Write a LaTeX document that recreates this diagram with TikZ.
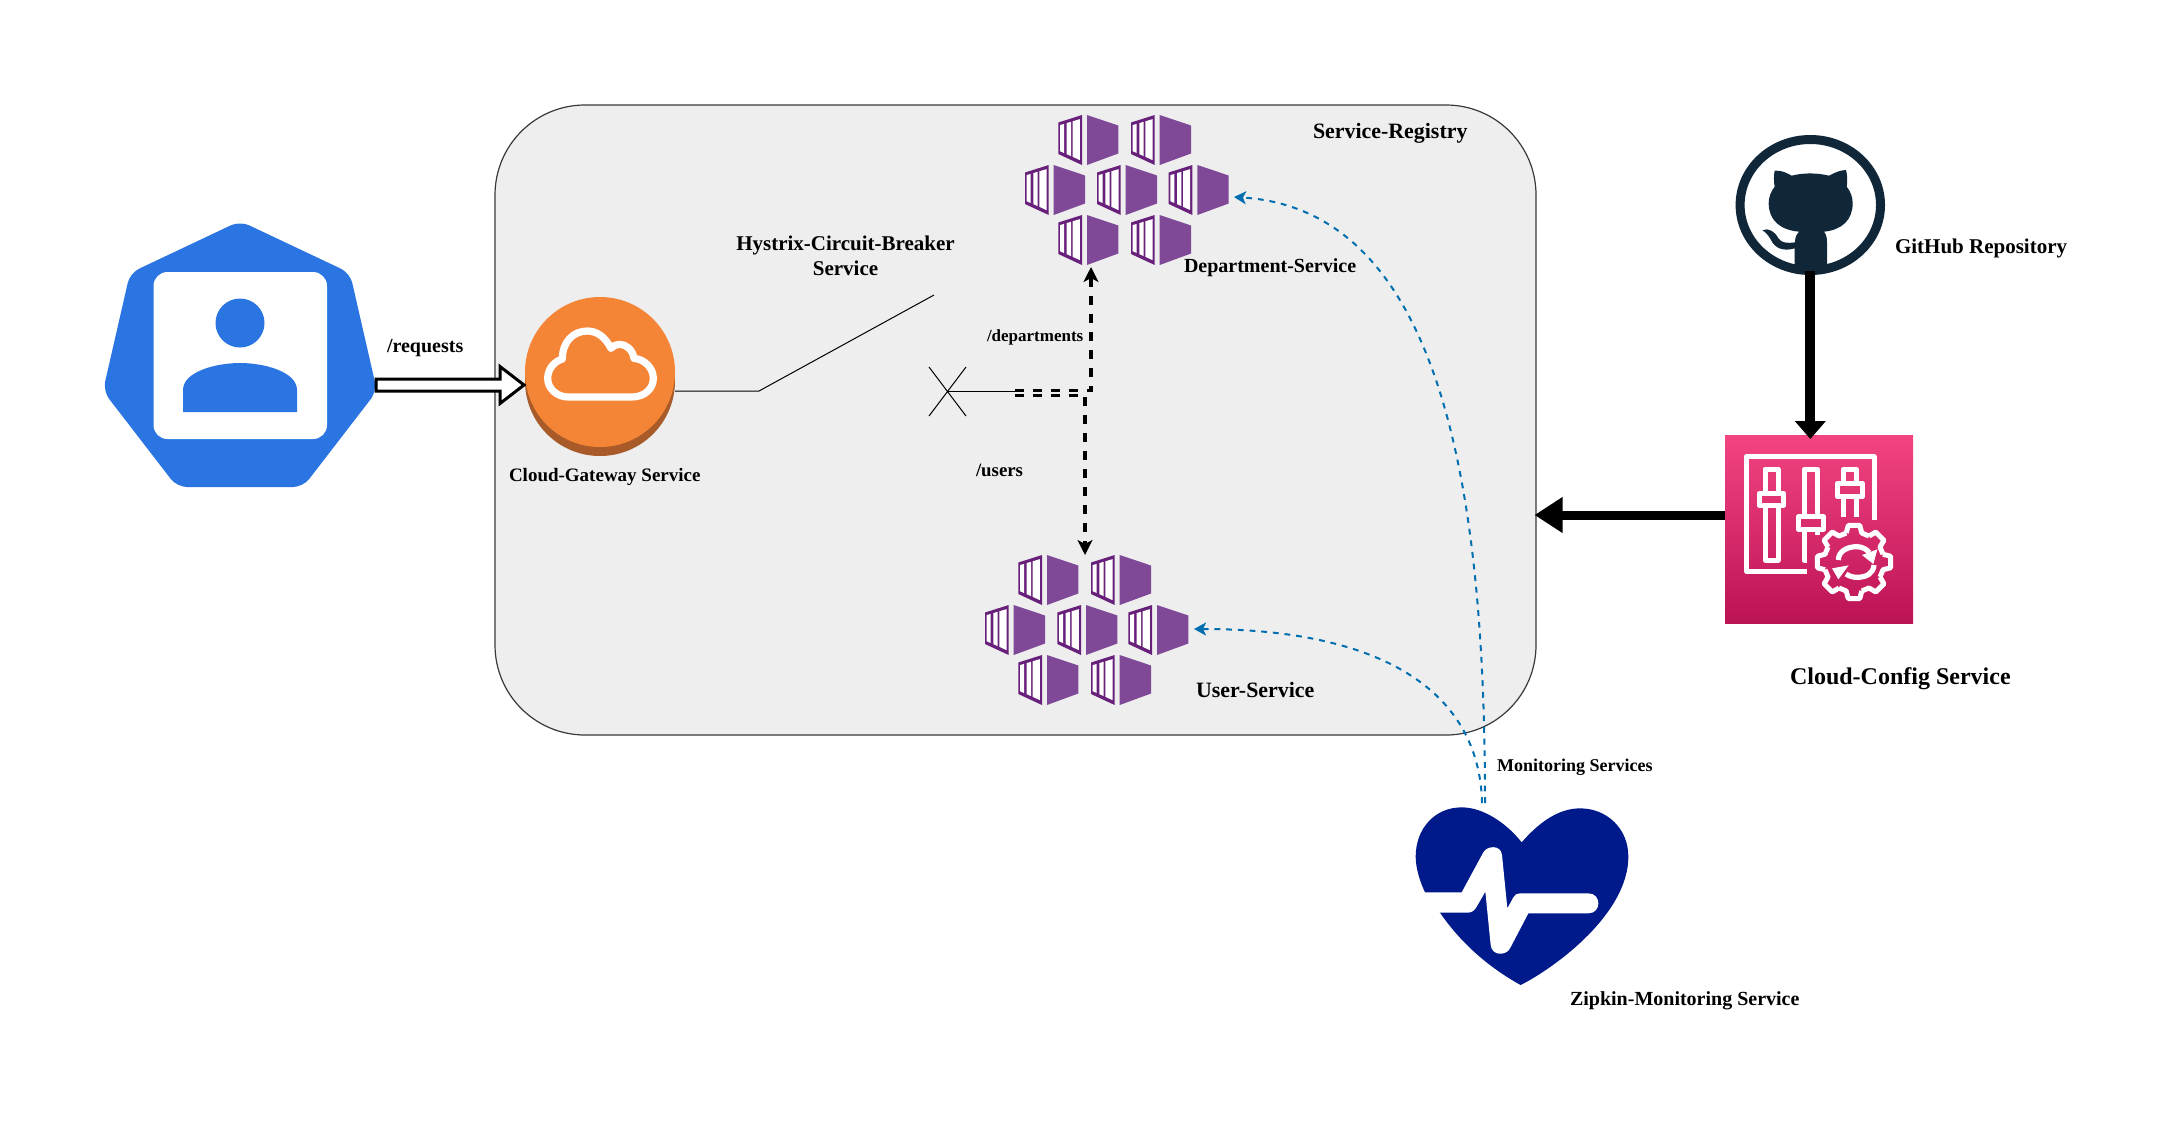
\documentclass[tikz,border=0pt]{standalone}
\usepackage{fontspec}
\setmainfont{Liberation Serif}
\usetikzlibrary{arrows.meta,shapes.geometric}
\definecolor{kblue}{HTML}{2A75E2}
\definecolor{gworange}{HTML}{F58536}
\definecolor{gwshade}{HTML}{A85A28}
\definecolor{regfill}{HTML}{EEEEEE}
\definecolor{regline}{HTML}{36393D}
\definecolor{purpleA}{HTML}{68217A}
\definecolor{purpleB}{HTML}{804998}
\definecolor{ghdark}{HTML}{10273A}
\definecolor{cfgtop}{HTML}{F34482}
\definecolor{cfgbot}{HTML}{BC1356}
\definecolor{heartblue}{HTML}{001A8C}
\definecolor{mon}{HTML}{006EAF}
\newcommand\fsz[1]{\fontsize{#1pt}{12.5pt}\selectfont\bfseries}
\tikzset{
  lbl/.style={inner sep=0pt,outer sep=0pt,anchor=base west,text=black},
  thinline/.style={black,line width=0.5pt},
  routed/.style={black,line width=1.7pt,dash pattern=on 4.5pt off 4.5pt,-{Stealth[length=7.5pt,width=7.5pt,inset=2pt]}},
  monitor/.style={mon,line width=1pt,dash pattern=on 2.9pt off 2.95pt,-{Stealth[length=6pt,width=6.5pt,inset=1.5pt]}},
  wh/.style={white,line width=2.5pt,line join=round,line cap=butt},
  kube/.pic={
    \fill[purpleA] (0,7.5) -- (23.7,0) -- (23.7,50) -- (0,39) -- cycle;
    \fill[purpleB] (28.7,0) -- (60,10.5) -- (60,38.5) -- (28.7,50) -- cycle;
    \fill[white] (1.7,10.1) -- (5.7,8.9) -- (5.7,38) -- (1.7,36.2) -- cycle;
    \fill[white] (8.3,8.1) -- (12.7,6.8) -- (12.7,41.1) -- (8.3,39.1) -- cycle;
    \fill[white] (14.3,6.3) -- (21.5,4.15) -- (21.5,45.1) -- (14.3,41.8) -- cycle;
  }
}
\begin{document}
\begin{tikzpicture}[x=0.5pt,y=-0.5pt]
\useasboundingbox (0,0) rectangle (2173,1131);
\fill[white] (0,0) rectangle (2173,1131);

% service registry box
\node[draw=regline,fill=regfill,line width=0.6pt,rounded corners=45pt,minimum width=520.5pt,minimum height=315pt,inner sep=0pt,outer sep=0pt] (reg) at (1015.5,420) {};

% user heptagon
\fill[kblue,rounded corners=5pt] (240,221) -- (350,273) -- (377,391) -- (303,487) -- (177,487) -- (103,391) -- (130,273) -- cycle;
\fill[white,rounded corners=7pt] (153.5,272) rectangle (327,439);
\node[circle,fill=kblue,minimum size=24.5pt,inner sep=0pt] (userhead) at (240,323) {};
\fill[kblue] (183,412) -- (183,390) .. controls (183,372) and (215,363) .. (240,363) .. controls (265,363) and (297,372) .. (297,390) -- (297,412) -- cycle;

% gateway
\fill[gwshade] (600,381) circle[radius=37.5pt];
\node[circle,fill=gworange,minimum size=75pt,inner sep=0pt,outer sep=0pt] (gw) at (600,372) {};
\begin{scope}[shift={(530,310)},x=0.16667pt,y=-0.16667pt]
\draw[white,line width=3.6pt,line join=round] (115,261) -- (305,261) .. controls (345,261) and (370,235) .. (370,205) .. controls (370,175) and (345,148) .. (312,145) .. controls (308,120) and (290,103) .. (268,103) .. controls (258,103) and (250,107) .. (243,115) .. controls (225,80) and (200,63) .. (172,63) .. controls (130,63) and (97,95) .. (97,147) .. controls (70,155) and (53,180) .. (53,205) .. controls (53,235) and (80,261) .. (115,261) -- cycle;
\end{scope}

% hollow request arrow
\coordinate (reqS) at (376,385);
\coordinate (reqE) at (524,385);
\draw[black,fill=white,line width=1.5pt,line join=miter] (reqS) ++(0,-6) -- ++(124,0) -- ++(0,-12.5) -- (reqE) -- ++(-24,18.5) -- ++(0,-12.5) -- ++(-124,0) -- cycle;

% containers department
\foreach \p in {(1058.3,115),(1131,115),(1025,165),(1097,165),(1168.7,165),(1058.3,215),(1131,215)} \pic at \p {kube};
% containers user
\foreach \p in {(1018.3,555),(1091,555),(985,605),(1057.3,605),(1128.3,605),(1018.3,655),(1091,655)} \pic at \p {kube};

% circuit breaker
\coordinate (gwOut) at (675,391);
\coordinate (swA) at (759,391);
\coordinate (swB) at (934,295);
\coordinate (xc) at (947,391);
\coordinate (xe) at (1015,391);
\draw[thinline] (gwOut) -- (swA) -- (swB);
\draw[thinline] (929,367) -- (966,416) (929,416) -- (966,367);
\draw[thinline] (xc) -- (xe);

% routes
\coordinate (depS) at (1015,390.7);
\coordinate (depC) at (1091,390.7);
\coordinate (depT) at (1091,267);
\coordinate (usrS) at (1015,395.3);
\coordinate (usrC) at (1085,395.3);
\coordinate (usrT) at (1085,555);
\draw[routed] (depS) -- (depC) -- (depT);
\draw[routed] (usrS) -- (usrC) -- (usrT);

% github
\node[ellipse,draw=ghdark,line width=4.5pt,minimum width=70.2pt,minimum height=65.5pt,inner sep=0pt,outer sep=0pt] (gh) at (1810.3,205) {};
\begin{scope}[shift={(1700,120)},x=0.16667pt,y=-0.16667pt]
\fill[ghdark] (224,152) .. controls (245,150) and (262,160) .. (275,167) .. controls (310,158) and (350,158) .. (387,167) .. controls (400,160) and (420,150) .. (438,150) .. controls (442,165) and (443,185) .. (440,200) .. controls (452,215) and (458,232) .. (458,250) .. controls (458,300) and (425,330) .. (372,335) .. controls (380,345) and (381,355) .. (381,370) -- (381,440) -- (284,440) -- (284,385) .. controls (250,395) and (225,385) .. (213,360) .. controls (205,345) and (195,335) .. (187,331) .. controls (205,322) and (225,335) .. (235,355) .. controls (245,370) and (265,370) .. (285,367) .. controls (285,350) and (290,342) .. (297,335) .. controls (240,330) and (206,300) .. (206,250) .. controls (206,232) and (212,215) .. (224,200) .. controls (221,185) and (221,165) .. (224,152) -- cycle;
\end{scope}

% config square
\node[top color=cfgtop,bottom color=cfgbot,minimum width=94pt,minimum height=94pt,inner sep=0pt,outer sep=0pt] (cfg) at (1819,529) {};
\begin{scope}[shift={(1700,120)},x=0.16667pt,y=-0.16667pt]
\draw[wh] (322,1355) -- (140,1355) -- (140,1010) -- (522,1010) -- (522,1200);
% slider one
\draw[wh] (195,1120) -- (195,1047) -- (234,1047) -- (234,1120);
\draw[wh] (195,1156) -- (195,1320) -- (234,1320) -- (234,1156);
\draw[wh] (177,1120) rectangle (251,1156);
% slider two
\draw[wh] (313,1190) -- (313,1047) -- (351,1047) -- (351,1190);
\draw[wh] (313,1228) -- (313,1322) -- (322,1322);
\draw[wh] (351,1228) -- (351,1245);
\draw[wh] (295,1190) rectangle (370,1228);
% slider three
\draw[wh] (430,1090) -- (430,1047) -- (468,1047) -- (468,1090);
\draw[wh] (430,1130) -- (430,1190);
\draw[wh] (468,1130) -- (468,1190);
\draw[wh] (412,1090) rectangle (487,1130);
\end{scope}
\begin{scope}[shift={(1854,562)}]
\foreach \a in {0,45,...,315} {
  \draw[white,line width=2.5pt,line join=round] (\a-15:30) -- (\a-9:37) -- (\a+9:37) -- (\a+15:30) -- (\a+30:30);
}
\end{scope}
\begin{scope}[shift={(1770,500)},x=0.16667pt,y=-0.16667pt]
\draw[white,line width=2.6pt] (205,180) .. controls (205,155) and (230,140) .. (260,140) .. controls (275,140) and (290,147) .. (298,158);
\draw[white,line width=2.6pt] (312,195) .. controls (310,220) and (290,232) .. (260,232) .. controls (248,232) and (237,228) .. (228,222);
\fill[white] (322,148) -- (276,165) -- (310,192) -- cycle;
\fill[white] (186,205) -- (236,196) -- (205,238) -- cycle;
\end{scope}

% thick arrows
\coordinate (ghOut) at (1810.3,271);
\coordinate (cfgIn) at (1810.3,439);
\coordinate (cfgOut) at (1725,515);
\coordinate (regIn) at (1534.5,515);
\draw[black,line width=5pt,-{Triangle[length=9pt,width=15pt]}] (ghOut) -- (cfgIn);
\draw[black,line width=4.5pt,-{Triangle[length=14pt,width=17pt]}] (cfgOut) -- (regIn);

% heart
\begin{scope}[shift={(1380,720)},x=0.16667pt,y=-0.16667pt]
\fill[heartblue] (425,367) .. controls (380,310) and (310,262) .. (245,262) .. controls (165,262) and (107,325) .. (107,410) .. controls (107,445) and (120,485) .. (135,517) .. controls (145,535) and (160,555) .. (180,578) .. controls (250,680) and (340,750) .. (422,795) .. controls (530,740) and (745,580) .. (745,410) .. controls (745,325) and (680,265) .. (600,265) .. controls (530,265) and (470,315) .. (425,367) -- cycle;
\fill[white] (120,517) -- (245,517) -- (310,397) .. controls (320,378) and (362,372) .. (366,405) -- (382,565) -- (400,532) .. controls (405,524) and (410,520) .. (420,520) -- (625,520) .. controls (665,520) and (665,580) .. (625,580) -- (445,580) -- (390,685) .. controls (378,708) and (335,708) .. (332,675) -- (316,515) -- (290,560) .. controls (283,572) and (275,578) .. (262,578) -- (160,578) -- cycle;
\end{scope}

% monitoring curves
\coordinate (hbA) at (1485,803);
\coordinate (hbB) at (1482,803);
\coordinate (depM) at (1234,197);
\coordinate (usrM) at (1194,629);
\draw[monitor] (hbA) .. controls (1485,500) and (1445,210) .. (depM);
\draw[monitor] (hbB) .. controls (1480,700) and (1395,629) .. (usrM);

% labels
\node[lbl,font=\fsz{10}] (tReq) at (387,352) {/requests};
\node[lbl,font=\fsz{9.5}] (tGw) at (509,481.5) {Cloud-Gateway Service};
\node[lbl,font=\fsz{10.95}] (tReg) at (1313,138) {Service-Registry};
\node[inner sep=0pt,outer sep=0pt,align=center,font=\fsz{10.5},anchor=center] (tHys) at (845.5,256) {Hystrix-Circuit-Breaker\\Service};
\node[lbl,font=\fsz{10}] (tDep) at (1184,272) {Department-Service};
\node[lbl,font=\fsz{8.5}] (tDp) at (987,341) {/departments};
\node[lbl,font=\fsz{9.4}] (tUs) at (976,476.5) {/users};
\node[lbl,font=\fsz{10.95}] (tUsr) at (1196,697.5) {User-Service};
\node[lbl,font=\fsz{10.5}] (tGh) at (1895,253) {GitHub Repository};
\node[lbl,font=\fsz{12}] (tCfg) at (1790,684.5) {Cloud-Config Service};
\node[lbl,font=\fsz{9}] (tMon) at (1497,771) {Monitoring Services};
\node[lbl,font=\fsz{10}] (tZip) at (1570,1005.5) {Zipkin-Monitoring Service};
\end{tikzpicture}
\end{document}
